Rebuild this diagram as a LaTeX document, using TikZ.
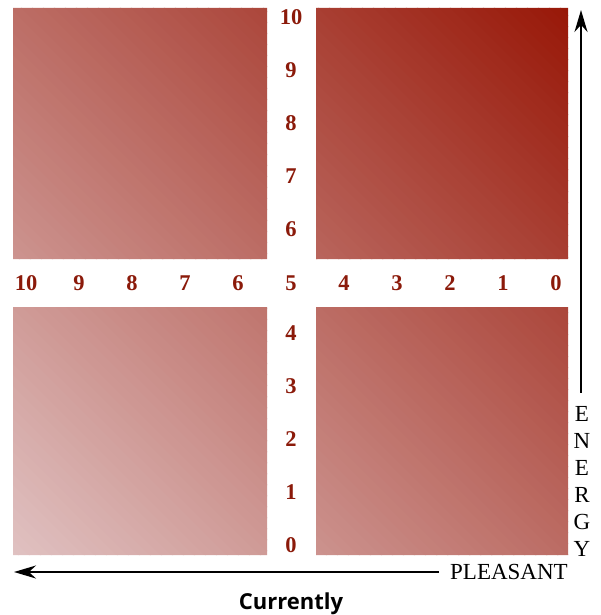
\documentclass[tikz,border=0pt]{standalone}
\usepackage{fontspec}
\setmainfont{Liberation Serif}
\newfontfamily\labelsans{Open Sans}
\usetikzlibrary{arrows.meta}
\definecolor{lightc}{RGB}{224,194,194}
\definecolor{darkc}{RGB}{152,24,8}
\definecolor{numc}{RGB}{139,26,10}
\tikzset{
  num/.style={text=numc, inner sep=0pt, font=\fontsize{22.5}{22.5}\selectfont\bfseries},
  axisarrow/.style={line width=2.2pt, -{Stealth[length=22pt,width=13pt]}},
  axislabel/.style={inner sep=0pt, font=\fontsize{23}{27}\selectfont},
}
\begin{document}
\begin{tikzpicture}[x=1pt,y=-1pt]
\useasboundingbox (0,0) rectangle (600,615);
% shaded quadrants
\begin{scope}
  \clip (13,8) rectangle (267,259)
        (316,8) rectangle (568,259)
        (13,307) rectangle (267,555)
        (316,307) rectangle (568,555);
  \foreach \i in {0,...,100}{
    \pgfmathsetmacro\va{-548+11*\i}
    \pgfmathsetmacro\vb{\va+12}
    \fill[darkc!\i!lightc] (\va-20,-20) -- (\va+640,640) -- (\vb+640,640) -- (\vb-20,-20) -- cycle;
  }
\end{scope}
% horizontal row of numbers
\foreach \v [count=\k from 0] in {10,9,8,7,6,5,4,3,2,1,0}{
  \node[num] (h\v) at (26+53*\k,283) {\v};
}
% vertical column of numbers
\foreach \v/\y in {10/17,9/70,8/123,7/176,6/229,4/333,3/386,2/439,1/492,0/545}{
  \node[num] (v\v) at (291,\y) {\v};
}
% axis labels
\node[axislabel, align=center] (energy) at (582,481) {E\\N\\E\\R\\G\\Y};
\node[axislabel, anchor=base west] (pleasant) at (450,579) {PLEASANT};
\node[inner sep=0pt, anchor=base, font=\labelsans\fontsize{22}{22}\selectfont\bfseries] (currently) at (291,609) {Currently};
% arrows
\coordinate (vtop) at (581,10);
\coordinate (hleft) at (14,572);
\draw[axisarrow, shorten <=13pt] (energy.north -| vtop) -- (vtop);
\draw[axisarrow, shorten <=11pt] (pleasant.west |- hleft) -- (hleft);
\end{tikzpicture}
\end{document}
